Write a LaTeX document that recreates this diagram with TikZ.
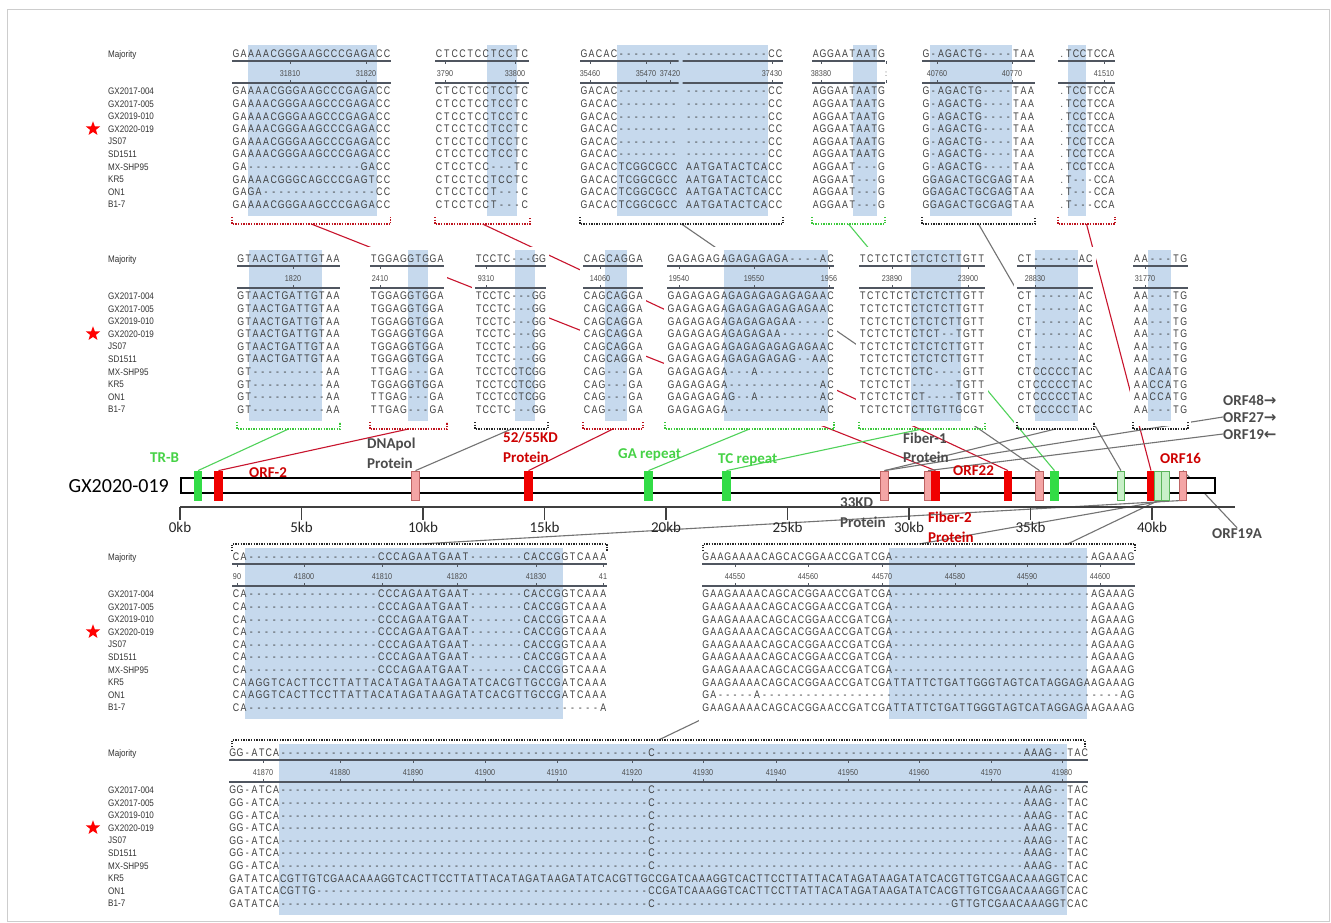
\documentclass[tikz,border=0pt]{standalone}
\usepackage{fontspec}
\setmainfont{Liberation Sans}
\newfontfamily\seqfont[FakeStretch=0.8]{Liberation Sans}
\newfontfamily\labfont[FakeStretch=0.85]{Liberation Sans}
\newfontfamily\calfont{Carlito}
\newfontfamily\arrfont{DejaVu Sans}
\usetikzlibrary{shapes.geometric,positioning}

\definecolor{hl}{RGB}{198,217,237}
\definecolor{seqc}{RGB}{62,62,62}
\definecolor{rulec}{RGB}{80,86,96}
\definecolor{framec}{RGB}{205,205,205}
\definecolor{tagred}{RGB}{205,0,0}
\definecolor{taggreen}{RGB}{70,210,70}
\definecolor{taggray}{RGB}{75,75,75}
\definecolor{lnred}{RGB}{200,20,45}
\definecolor{lngreen}{RGB}{80,210,90}
\definecolor{lngray}{RGB}{115,115,115}
\definecolor{brred}{RGB}{190,20,30}
\definecolor{brgreen}{RGB}{60,200,60}
\definecolor{mkgreen}{RGB}{50,220,70}
\definecolor{mkred}{RGB}{240,0,0}
\definecolor{mkpink}{RGB}{244,165,165}
\definecolor{mkpinkd}{RGB}{190,100,100}
\definecolor{mklgreen}{RGB}{200,240,200}
\definecolor{mklgreend}{RGB}{90,180,90}

\pgfdeclarelayer{back}
\pgfsetlayers{back,main}

\tikzset{
  seq/.style={anchor=west, inner sep=0pt, text height=7.9pt, text depth=0pt,
    text=seqc, font=\seqfont\fontsize{11}{11}\selectfont},
  lab/.style={anchor=west, inner sep=0pt, text height=6.8pt, text depth=0pt,
    text=black!80, font=\labfont\fontsize{9.5}{9.5}\selectfont},
  numlab/.style={inner sep=0pt, text height=6pt, text depth=0pt,
    text=black!70, font=\labfont\fontsize{8.5}{8.5}\selectfont},
  rline/.style={draw=rulec, line width=1.3pt},
  rtick/.style={draw=rulec, line width=0.8pt},
  brk/.style={line width=1.7pt, dash pattern=on 1.3pt off 1.3pt},
  cn/.style={line width=1.1pt},
  mkbox/.style={minimum width=7.5pt, minimum height=29pt, inner sep=0pt, line width=0.8pt},
  gbox/.style={mkbox, fill=mkgreen, draw=mkgreen},
  rbox/.style={mkbox, fill=mkred, draw=mkred},
  pbox/.style={mkbox, fill=mkpink, draw=mkpinkd},
  lbox/.style={mkbox, fill=mklgreen, draw=mklgreend},
  tag/.style={anchor=west, inner sep=0pt, text height=10pt, text depth=0pt,
    font=\calfont\bfseries\fontsize{15}{15}\selectfont, text=#1},
  kb/.style={inner sep=0pt, text height=10pt, text depth=0pt, text=black!85,
    font=\calfont\fontsize{15}{15}\selectfont},
  redstar/.style={star, star points=5, star point ratio=2.4, fill=red, inner sep=0pt, minimum size=15pt},
}

% one character per column
\newlength\seqw
\def\dX{----------}
\newcommand\seqrow[1]{\edef\seqtmp{#1}\expandafter\seqloop\seqtmp\relax}
\def\seqloop#1{\ifx#1\relax\else\makebox[\seqw]{\ifx#1*\else#1\fi}\expandafter\seqloop\fi}

% strain names in front of an alignment row
\newcommand\strains[2]{%
  \node[lab] (#1-maj) at (108,#2) {Majority};
  \foreach \t [count=\i] in {GX2017-004,GX2017-005,GX2019-010,GX2020-019,JS07,SD1511,MX-SHP95,KR5,ON1,B1-7}
    \node[lab] (#1-\i) at (108,#2+24.4+12.6*\i) {\t};
  \node[redstar] (#1-star) at (93,#2+74.8) {};
}
% alignment block: name, x0, majority y, pitch, x1, majority, rows, shade from, shade to
\newcommand\seqblock[9]{%
  \fill[white] (#2-3,#3-12) rectangle (#5+3,#3+167);
  \fill[hl] (#8,#3-9) rectangle (#9,#3+162);
  \draw[rline] (#2,#3+7) -- (#5,#3+7) (#2,#3+29) -- (#5,#3+29);
  \setlength\seqw{#4pt}%
  \node[seq] (#1-maj) at (#2,#3) {\seqrow{#6}};
  \foreach \s [count=\i] in {#7}
    \node[seq] (#1-\i) at (#2,#3+24.4+12.6*\i) {\seqrow{\s}};
}
\newcommand\rulernums[3]{%
  \foreach \rn/\p [count=\k] in {#3} {
    \node[numlab] (#1-n\k) at (\p,#2+19) {\rn};
    \draw[rtick] (\p,#2+7) -- ++(0,3) (\p,#2+29) -- ++(0,-3);
  }}
\newcommand\brkbelow[5]{%
  \draw[brk,#5] (#2,#4-7) -- (#2,#4) -- (#3,#4) -- (#3,#4-7);
  \coordinate (#1) at ({(#2+#3)/2},#4);}
\newcommand\brkabove[5]{%
  \draw[brk,#5] (#2,#4+7) -- (#2,#4) -- (#3,#4) -- (#3,#4+7);
  \coordinate (#1) at ({(#2+#3)/2},#4);}

\begin{document}
\begin{tikzpicture}[x=1pt,y=-1pt]
\useasboundingbox (0,0) rectangle (1331,922);
\draw[framec, line width=1pt] (7,9) rectangle (1329,921);

% ---- first row of alignments ----
\strains{s1}{54}
\seqblock{A}{232}{54}{7.55}{390.5}{GAAAACGGGAAGCCCGAGACC}
  {GAAAACGGGAAGCCCGAGACC,GAAAACGGGAAGCCCGAGACC,GAAAACGGGAAGCCCGAGACC,
   GAAAACGGGAAGCCCGAGACC,GAAAACGGGAAGCCCGAGACC,GAAAACGGGAAGCCCGAGACC,
   GA\dX-----GACC,GAAAACGGGCAGCCCGAGTCC,GAGA\dX-----CC,GAAAACGGGAAGCCCGAGACC}{248}{377}
\seqblock{B}{435}{54}{7.8}{528.6}{CTCCTCCTCCTC}
  {CTCCTCCTCCTC,CTCCTCCTCCTC,CTCCTCCTCCTC,CTCCTCCTCCTC,CTCCTCCTCCTC,CTCCTCCTCCTC,
   CTCCTCC---TC,CTCCTCCTCCTC,CTCCTCCT---C,CTCCTCCT---C}{487}{517}
\seqblock{C}{580}{54}{7.5}{782.5}{GACAC--------*-----------CC}
  {GACAC--------*-----------CC,GACAC--------*-----------CC,GACAC--------*-----------CC,
   GACAC--------*-----------CC,GACAC--------*-----------CC,GACAC--------*-----------CC,
   GACACTCGGCGCC*AATGATACTCACC,GACACTCGGCGCC*AATGATACTCACC,
   GACACTCGGCGCC*AATGATACTCACC,GACACTCGGCGCC*AATGATACTCACC}{617}{768}
\fill[hl] (678.5,59) rectangle (682.5,63) (678.5,81) rectangle (682.5,85);
\seqblock{D}{812}{54}{7.3}{885}{AGGAATAATG}
  {AGGAATAATG,AGGAATAATG,AGGAATAATG,AGGAATAATG,AGGAATAATG,AGGAATAATG,
   AGGAAT---G,AGGAAT---G,AGGAAT---G,AGGAAT---G}{853}{877}
\seqblock{E}{922}{54}{7.5}{1034.5}{G-AGACTG----TAA}
  {G-AGACTG----TAA,G-AGACTG----TAA,G-AGACTG----TAA,G-AGACTG----TAA,G-AGACTG----TAA,
   G-AGACTG----TAA,G-AGACTG----TAA,GGAGACTGCGAGTAA,GGAGACTGCGAGTAA,GGAGACTGCGAGTAA}{930}{1012}
\seqblock{F}{1058}{54}{7.1}{1114.8}{.TCCTCCA}
  {.TCCTCCA,.TCCTCCA,.TCCTCCA,.TCCTCCA,.TCCTCCA,.TCCTCCA,.TCCTCCA,
   .T---CCA,.T---CCA,.T---CCA}{1068}{1086}
\rulernums{A}{54}{31810/290,31820/366}
\rulernums{B}{54}{3790/445,33800/515}
\rulernums{C}{54}{35460/590,35470/646,37420/670,37430/772}
\rulernums{D}{54}{38380/821,:/886}
\rulernums{E}{54}{40760/937,40770/1012}
\rulernums{F}{54}{41510/1104}
\brkbelow{bA}{232}{390.5}{224}{brred}
\brkbelow{bB}{435}{530}{224}{brred}
\brkbelow{bC}{580}{783}{224}{black!85}
\brkbelow{bD}{812}{885}{224}{brgreen}
\brkbelow{bE}{922}{1035}{224}{black!85}
\brkbelow{bF}{1058}{1115}{224}{brred}

% ---- second row of alignments ----
\strains{s2}{259}
\seqblock{G}{237}{259}{7.36}{340}{GTAACTGATTGTAA}
  {GTAACTGATTGTAA,GTAACTGATTGTAA,GTAACTGATTGTAA,GTAACTGATTGTAA,GTAACTGATTGTAA,
   GTAACTGATTGTAA,GT\dX AA,GT\dX AA,GT\dX AA,GT\dX AA}{249}{322}
\seqblock{H}{370}{259}{7.4}{444}{TGGAGGTGGA}
  {TGGAGGTGGA,TGGAGGTGGA,TGGAGGTGGA,TGGAGGTGGA,TGGAGGTGGA,TGGAGGTGGA,
   TTGAG---GA,TGGAGGTGGA,TTGAG---GA,TTGAG---GA}{408}{428}
\seqblock{I}{475}{259}{7.1}{546}{TCCTC---GG}
  {TCCTC---GG,TCCTC---GG,TCCTC---GG,TCCTC---GG,TCCTC---GG,TCCTC---GG,
   TCCTCCTCGG,TCCTCCTCGG,TCCTCCTCGG,TCCTC---GG}{515}{535}
\seqblock{J}{583}{259}{7.5}{643}{CAGCAGGA}
  {CAGCAGGA,CAGCAGGA,CAGCAGGA,CAGCAGGA,CAGCAGGA,CAGCAGGA,
   CAG---GA,CAG---GA,CAG---GA,CAG---GA}{605}{627}
\seqblock{K}{667}{259}{7.6}{834.2}{GAGAGAGAGAGAGAGA----AC}
  {GAGAGAGAGAGAGAGAGAGAAC,GAGAGAGAGAGAGAGAGAGAAC,GAGAGAGAGAGAGAGAA----C,
   GAGAGAGAGAGAGAA------C,GAGAGAGAGAGAGAGAGAGAAC,GAGAGAGAGAGAGAGAG--AAC,
   GAGAGAGA---A---------C,GAGAGAGA------------AC,GAGAGAGAG--A--------AC,
   GAGAGAGA------------AC}{724}{828}
\seqblock{L}{859}{259}{7.4}{984.8}{TCTCTCTCTCTCTTGTT}
  {TCTCTCTCTCTCTTGTT,TCTCTCTCTCTCTTGTT,TCTCTCTCTCTCTTGTT,TCTCTCTCTCT--TGTT,
   TCTCTCTCTCTCTTGTT,TCTCTCTCTCTCTTGTT,TCTCTCTCTC----GTT,TCTCTCT------TGTT,
   TCTCTCTCT----TGTT,TCTCTCTCTTGTTGCGT}{911}{961}
\seqblock{M}{1017}{259}{7.6}{1093}{CT------AC}
  {CT------AC,CT------AC,CT------AC,CT------AC,CT------AC,CT------AC,
   CTCCCCCTAC,CTCCCCCTAC,CTCCCCCTAC,CTCCCCCTAC}{1035}{1078}
\seqblock{N}{1133}{259}{7.8}{1187.6}{AA---TG}
  {AA---TG,AA---TG,AA---TG,AA---TG,AA---TG,AA---TG,
   AACAATG,AACCATG,AACCATG,AA---TG}{1148}{1171}
\rulernums{G}{259}{1820/293}
\rulernums{H}{259}{2410/380}
\rulernums{I}{259}{9310/486}
\rulernums{J}{259}{14060/600}
\rulernums{K}{259}{19540/679,19550/754,1956/829}
\rulernums{L}{259}{23890/892,23900/968}
\rulernums{M}{259}{28830/1035}
\rulernums{N}{259}{31770/1145}
\brkbelow{bG}{237}{340}{429}{brgreen}
\brkbelow{bH}{370}{447}{429}{brred}
\brkbelow{bI}{475}{548}{429}{black!85}
\brkbelow{bJ}{583}{643}{429}{brred}
\brkbelow{bK}{665}{834}{429}{brgreen}
\brkbelow{bL}{859}{985}{429}{brgreen}
\brkbelow{bM}{1017}{1094}{429}{black!85}
\brkbelow{bN}{1133}{1188}{429}{black!85}

% ---- genome map ----
\node[draw, line width=1.8pt, fill=white, minimum width=1034pt, minimum height=15pt,
  inner sep=0pt, anchor=west] (genome) at (180,485.5) {};
\node[anchor=east, inner sep=0pt, text height=13pt, text depth=0pt,
  font=\calfont\fontsize{20}{20}\selectfont] (gname) at (169,486) {GX2020-019};
\node[gbox] (trb) at (198,485.5) {};
\node[rbox] (orf2) at (218.5,485.5) {};
\node[pbox] (dnapol) at (415.5,485.5) {};
\node[rbox] (k5255) at (528.5,485.5) {};
\node[gbox] (garep) at (648.5,485.5) {};
\node[gbox] (tcrep) at (726.5,485.5) {};
\node[pbox] (p33) at (884.5,485.5) {};
\node[pbox] (fib1) at (928,485.5) {};
\node[rbox] (fib2) at (935.5,485.5) {};
\node[rbox] (orf22) at (1008,485.5) {};
\node[pbox] (pk36) at (1039.5,485.5) {};
\node[gbox] (gn36) at (1054.5,485.5) {};
\node[lbox] (lg1) at (1121,485.5) {};
\node[rbox] (orf16) at (1151,485.5) {};
\node[lbox] (lg2) at (1158.5,485.5) {};
\node[lbox] (lg3) at (1165.5,485.5) {};
\node[pbox] (pk19a) at (1183,485.5) {};

\draw[rline, draw=black!75] (180,507) -- (1235,507);
\foreach \k in {0,5,...,40} {
  \draw[rtick, draw=black!75, line width=1.1pt] ({180+24.3*\k},507) -- ++(0,13);
  \node[kb] (kb\k) at ({180+24.3*\k},527) {\k kb};
}

% labels on the map
\node[tag=taggreen] (trb-t) at (150,457) {TR-B};
\node[tag=tagred] (orf2-t) at (249,472) {ORF-2};
\node[tag=taggray] (dnapol-t) at (367,443) {DNApol};
\node[tag=taggray] (dnapol-t2) at (367,463) {Protein};
\node[tag=tagred] (k5255-t) at (503,437) {52/55KD};
\node[tag=tagred] (k5255-t2) at (503,457) {Protein};
\node[tag=taggreen] (garep-t) at (618,453) {GA repeat};
\node[tag=taggreen] (tcrep-t) at (718,458) {TC repeat};
\node[tag=taggray] (fib1-t) at (903,438) {Fiber-1};
\node[tag=taggray] (fib1-t2) at (903,457) {Protein};
\node[tag=tagred] (orf22-t) at (953,470) {ORF22};
\node[tag=taggray] (p33-t) at (840,502) {33KD};
\node[tag=taggray] (p33-t2) at (840,522) {Protein};
\node[tag=tagred] (fib2-t) at (928,517) {Fiber-2};
\node[tag=tagred] (fib2-t2) at (928,537) {Protein};
\node[tag=tagred] (orf16-t) at (1160,458) {ORF16};
\node[tag=taggray] (orf48-t) at (1223,400) {ORF48{\arrfont\bfseries →}};
\node[tag=taggray] (orf27-t) at (1223,417) {ORF27{\arrfont\bfseries →}};
\node[tag=taggray] (orf19-t) at (1223,434) {ORF19{\arrfont\bfseries ←}};
\node[tag=taggray] (orf19a-t) at (1212,533) {ORF19A};

% ---- third row of alignments ----
\strains{s3}{557}
\seqblock{P}{232}{557}{7.65}{607}{CA\dX-------CCCAGAATGAAT-------CACCGGTCAAA}
  {CA\dX-------CCCAGAATGAAT-------CACCGGTCAAA,CA\dX-------CCCAGAATGAAT-------CACCGGTCAAA,
   CA\dX-------CCCAGAATGAAT-------CACCGGTCAAA,CA\dX-------CCCAGAATGAAT-------CACCGGTCAAA,
   CA\dX-------CCCAGAATGAAT-------CACCGGTCAAA,CA\dX-------CCCAGAATGAAT-------CACCGGTCAAA,
   CA\dX-------CCCAGAATGAAT-------CACCGGTCAAA,
   CAAGGTCACTTCCTTATTACATAGATAAGATATCACGTTGCCGATCAAA,
   CAAGGTCACTTCCTTATTACATAGATAAGATATCACGTTGCCGATCAAA,
   CA\dX\dX\dX\dX------A}{245}{563}
\seqblock{Q}{702}{557}{7.33}{1134.5}{GAAGAAAACAGCACGGAACCGATCGA\dX\dX-------AGAAAG}
  {GAAGAAAACAGCACGGAACCGATCGA\dX\dX-------AGAAAG,GAAGAAAACAGCACGGAACCGATCGA\dX\dX-------AGAAAG,
   GAAGAAAACAGCACGGAACCGATCGA\dX\dX-------AGAAAG,GAAGAAAACAGCACGGAACCGATCGA\dX\dX-------AGAAAG,
   GAAGAAAACAGCACGGAACCGATCGA\dX\dX-------AGAAAG,GAAGAAAACAGCACGGAACCGATCGA\dX\dX-------AGAAAG,
   GAAGAAAACAGCACGGAACCGATCGA\dX\dX-------AGAAAG,
   GAAGAAAACAGCACGGAACCGATCGATTATTCTGATTGGGTAGTCATAGGAGAAGAAAG,
   GA-----A\dX\dX\dX\dX---------AG,
   GAAGAAAACAGCACGGAACCGATCGATTATTCTGATTGGGTAGTCATAGGAGAAGAAAG}{889}{1087}
\rulernums{P}{557}{90/237,41800/304,41810/382,41820/457,41830/536,41/603}
\rulernums{Q}{557}{44550/735,44560/808,44570/882,44580/955,44590/1027,44600/1100}
\brkabove{bP}{232}{607}{544}{black!85}
\brkabove{bQ}{703}{1135}{544}{black!85}

% ---- fourth row of alignments ----
\strains{s4}{753}
\seqblock{R}{229}{753}{7.22}{1088}{GG-ATCA\dX\dX\dX\dX\dX-C\dX\dX\dX\dX\dX-AAAG--TAC}
  {GG-ATCA\dX\dX\dX\dX\dX-C\dX\dX\dX\dX\dX-AAAG--TAC,GG-ATCA\dX\dX\dX\dX\dX-C\dX\dX\dX\dX\dX-AAAG--TAC,
   GG-ATCA\dX\dX\dX\dX\dX-C\dX\dX\dX\dX\dX-AAAG--TAC,GG-ATCA\dX\dX\dX\dX\dX-C\dX\dX\dX\dX\dX-AAAG--TAC,
   GG-ATCA\dX\dX\dX\dX\dX-C\dX\dX\dX\dX\dX-AAAG--TAC,GG-ATCA\dX\dX\dX\dX\dX-C\dX\dX\dX\dX\dX-AAAG--TAC,
   GG-ATCA\dX\dX\dX\dX\dX-C\dX\dX\dX\dX\dX-AAAG--TAC,
   GATATCACGTTGTCGAACAAAGGTCACTTCCTTATTACATAGATAAGATATCACGTTGCCGATCAAAGGTCACTTCCTTATTACATAGATAAGATATCACGTTGTCGAACAAAGGTCAC,
   GATATCACGTTG\dX\dX\dX\dX------CCGATCAAAGGTCACTTCCTTATTACATAGATAAGATATCACGTTGTCGAACAAAGGTCAC,
   GATATCA\dX\dX\dX\dX\dX-C\dX\dX\dX\dX-GTTGTCGAACAAAGGTCAC}{279}{1067}
\rulernums{R}{753}{41870/263,41880/340,41890/413,41900/485,41910/557,41920/632,41930/703,41940/776,41950/848,41960/919,41970/991,41980/1062}
\brkabove{bR}{232}{1085}{740}{black!85}

% ---- connectors, behind everything ----
\begin{pgfonlayer}{back}
  \fill[white] (0,0) rectangle (1331,922);
  \draw[cn,lnred] (bA) -- (fib2.north);
  \draw[cn,lnred] (bB) -- (orf22.north);
  \draw[cn,lngray] (bC) -- (pk36.north);
  \draw[cn,lngreen] (bD) -- (gn36.north);
  \draw[cn,lngray] (bE) -- (lg1.north);
  \draw[cn,lnred] (bF) -- (orf16.north);
  \draw[cn,lngreen] (bG) -- (trb.north);
  \draw[cn,lnred] (bH) -- (orf2.north);
  \draw[cn,lngray] (bI) -- (dnapol.north);
  \draw[cn,lnred] (bJ) -- (k5255.north);
  \draw[cn,lngreen] (bK) -- (garep.north);
  \draw[cn,lngreen] (bL) -- (tcrep.north);
  \draw[cn,lngray] (bM) -- (p33.north);
  \draw[cn,lngray] (orf27-t.west) -- (p33.north);
  \draw[cn,lngray] (orf19-t.west) -- (fib1.north);
  \draw[cn,lngray] (bP) -- (pk19a.south);
  \draw[cn,lngray] (bQ) -- (lg3.south);
  \draw[cn,lngray] (bR) -- (lg2.south);
  \draw[cn,lngray] (pk19a.north) -- (orf19a-t.north);
\end{pgfonlayer}
\end{tikzpicture}
\end{document}
